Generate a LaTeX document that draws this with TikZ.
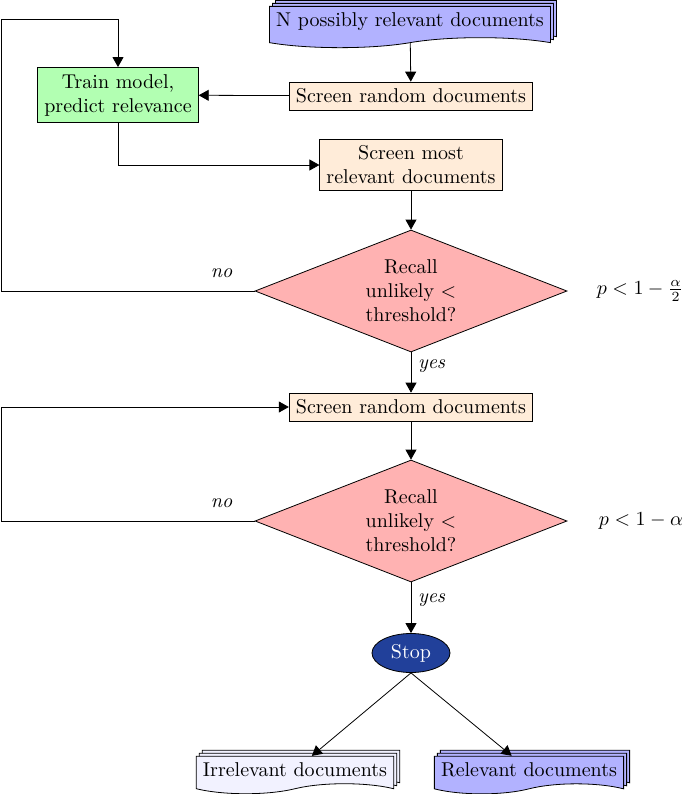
\documentclass[tikz,border=0pt]{standalone}
\usepackage{amsmath}
\usetikzlibrary{shapes.geometric,shapes.symbols,shadows,arrows.meta}
\definecolor{stopblue}{RGB}{33,64,154}

\begin{document}
\begin{tikzpicture}[x=0.5pt,y=-0.5pt,
    screenbox/.style={draw,fill=orange!15,align=center},
    trainbox/.style={draw,fill=green!30,align=center},
    decision/.style={draw,diamond,fill=red!30,align=center,aspect=2.56,
      minimum width=156pt,minimum height=61pt,inner sep=0pt},
    docs/.style={draw,tape,tape bend top=none,
      double copy shadow={shadow xshift=1.5pt,shadow yshift=1.5pt}},
    stopnode/.style={draw,ellipse,fill=stopblue,text=white,
      minimum width=39pt,minimum height=19.5pt,inner sep=1pt},
    flow/.style={-{Triangle[length=5pt,width=5.5pt]}},
    lbl/.style={font=\itshape}]
  \useasboundingbox (0,0) rectangle (685,794);

  \node[docs,fill=blue!30] (pool) at (410,22) {N possibly relevant documents};
  \node[screenbox] (first) at (411,96) {Screen random documents};
  \node[trainbox] (train) at (118,95) {Train model,\\predict relevance};
  \node[screenbox] (most) at (411,165) {Screen most\\relevant documents};
  \node[decision] (check) at (411,291) {Recall\\unlikely $<$\\threshold?};
  \node[inner sep=1pt] (pone) at (640,291) {$p<1-\frac{\alpha}{2}$};

  \node[screenbox] (again) at (411,407) {Screen random documents};
  \node[decision] (final) at (411,521) {Recall\\unlikely $<$\\threshold?};
  \node[inner sep=1pt] (ptwo) at (641,521) {$p<1-\alpha$};

  \node[stopnode] (stop) at (411,653) {Stop};
  \node[docs,fill=blue!5] (irr) at (295,770) {Irrelevant documents};
  \node[docs,fill=blue!30] (rel) at (529,770) {Relevant documents};

  \coordinate (loopA) at (1,19);
  \coordinate (loopB) at (1,407);

  \draw[flow] (pool) -- (first);
  \draw[flow] (first) -- (train);
  \draw[flow] (train.south) |- (most.west);
  \draw[flow] (most) -- (check);
  \draw[flow] (check.west) -| node[lbl,above=3pt,pos=0.065] {no} (loopA) -| (train.north);
  \draw[flow] (check) -- node[lbl,right,pos=0.35] {yes} (again);

  \draw[flow] (again) -- (final);
  \draw[flow] (final.west) -| node[lbl,above=3pt,pos=0.065] {no} (loopB) -- (again.west);
  \draw[flow] (final) -- node[lbl,right,pos=0.35] {yes} (stop);

  \draw[flow] (stop.south) -- (irr);
  \draw[flow] (stop.south) -- (rel);
\end{tikzpicture}
\end{document}
